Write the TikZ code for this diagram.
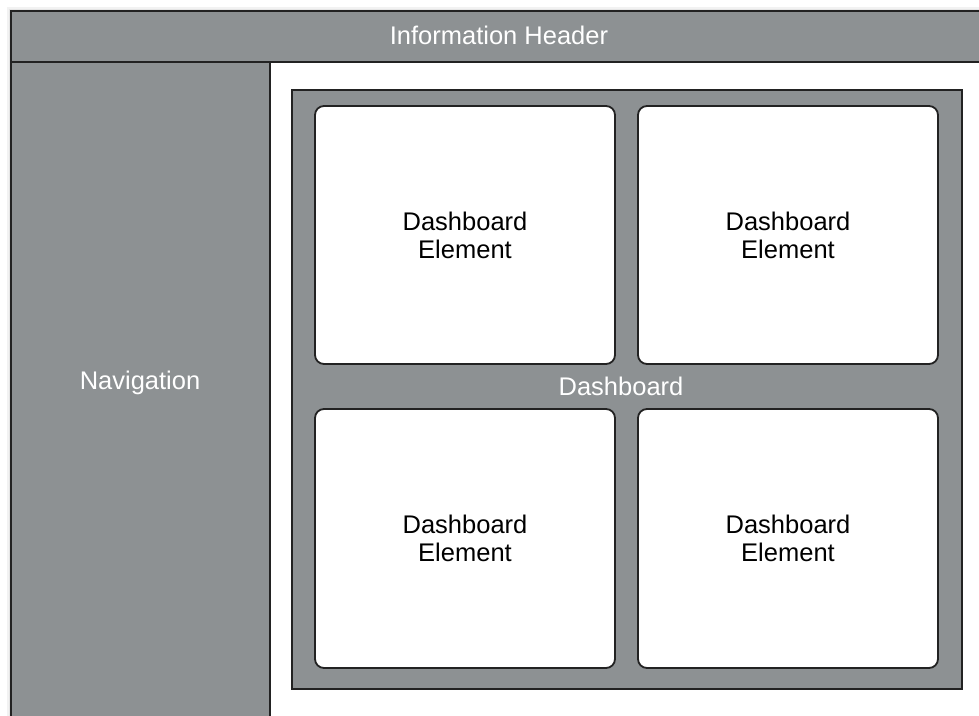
\documentclass[tikz,border=0pt]{standalone}
\usepackage{fontspec}
\setmainfont{Liberation Sans}
\definecolor{panelgray}{RGB}{141,145,147}
\definecolor{edgedark}{RGB}{34,34,34}
\begin{document}
\begin{tikzpicture}[x=1pt,y=-1pt,
  panel/.style={draw=edgedark, line width=1.8pt, fill=panelgray},
  element/.style={draw=edgedark, line width=1.8pt, fill=white, rounded corners=9pt},
  lighttext/.style={text=white, font=\fontsize{25.5}{28}\selectfont, inner sep=0pt},
  darktext/.style={text=black, font=\fontsize{25.5}{28}\selectfont, align=center, inner sep=0pt}]
\useasboundingbox (0,0) rectangle (979,715);
\clip (0,0) rectangle (979,715);
% faint shadow
\fill[black!5] (7,7) rectangle (990,730);
\fill[black!10] (9,9) rectangle (990,730);
% frame
\fill[white] (11,11) rectangle (990,730);
\draw[panel] (11,11) rectangle (990,62);
\draw[panel] (11,62) rectangle (270,730);
% dashboard container
\draw[panel] (292,90) rectangle (962,689);
% elements
\draw[element] (315,106) rectangle (615,364);
\draw[element] (638,106) rectangle (938,364);
\draw[element] (315,409) rectangle (615,668);
\draw[element] (638,409) rectangle (938,668);
% labels
\node[lighttext] (hdrlabel) at (499,35) {Information Header};
\node[lighttext] (navlabel) at (140,383) {Navigation};
\node[lighttext] (dashlabel) at (621,386) {Dashboard};
\node[darktext] (e1) at (465,235) {Dashboard\\Element};
\node[darktext] (e2) at (788,235) {Dashboard\\Element};
\node[darktext] (e3) at (465,538) {Dashboard\\Element};
\node[darktext] (e4) at (788,538) {Dashboard\\Element};
\end{tikzpicture}
\end{document}
